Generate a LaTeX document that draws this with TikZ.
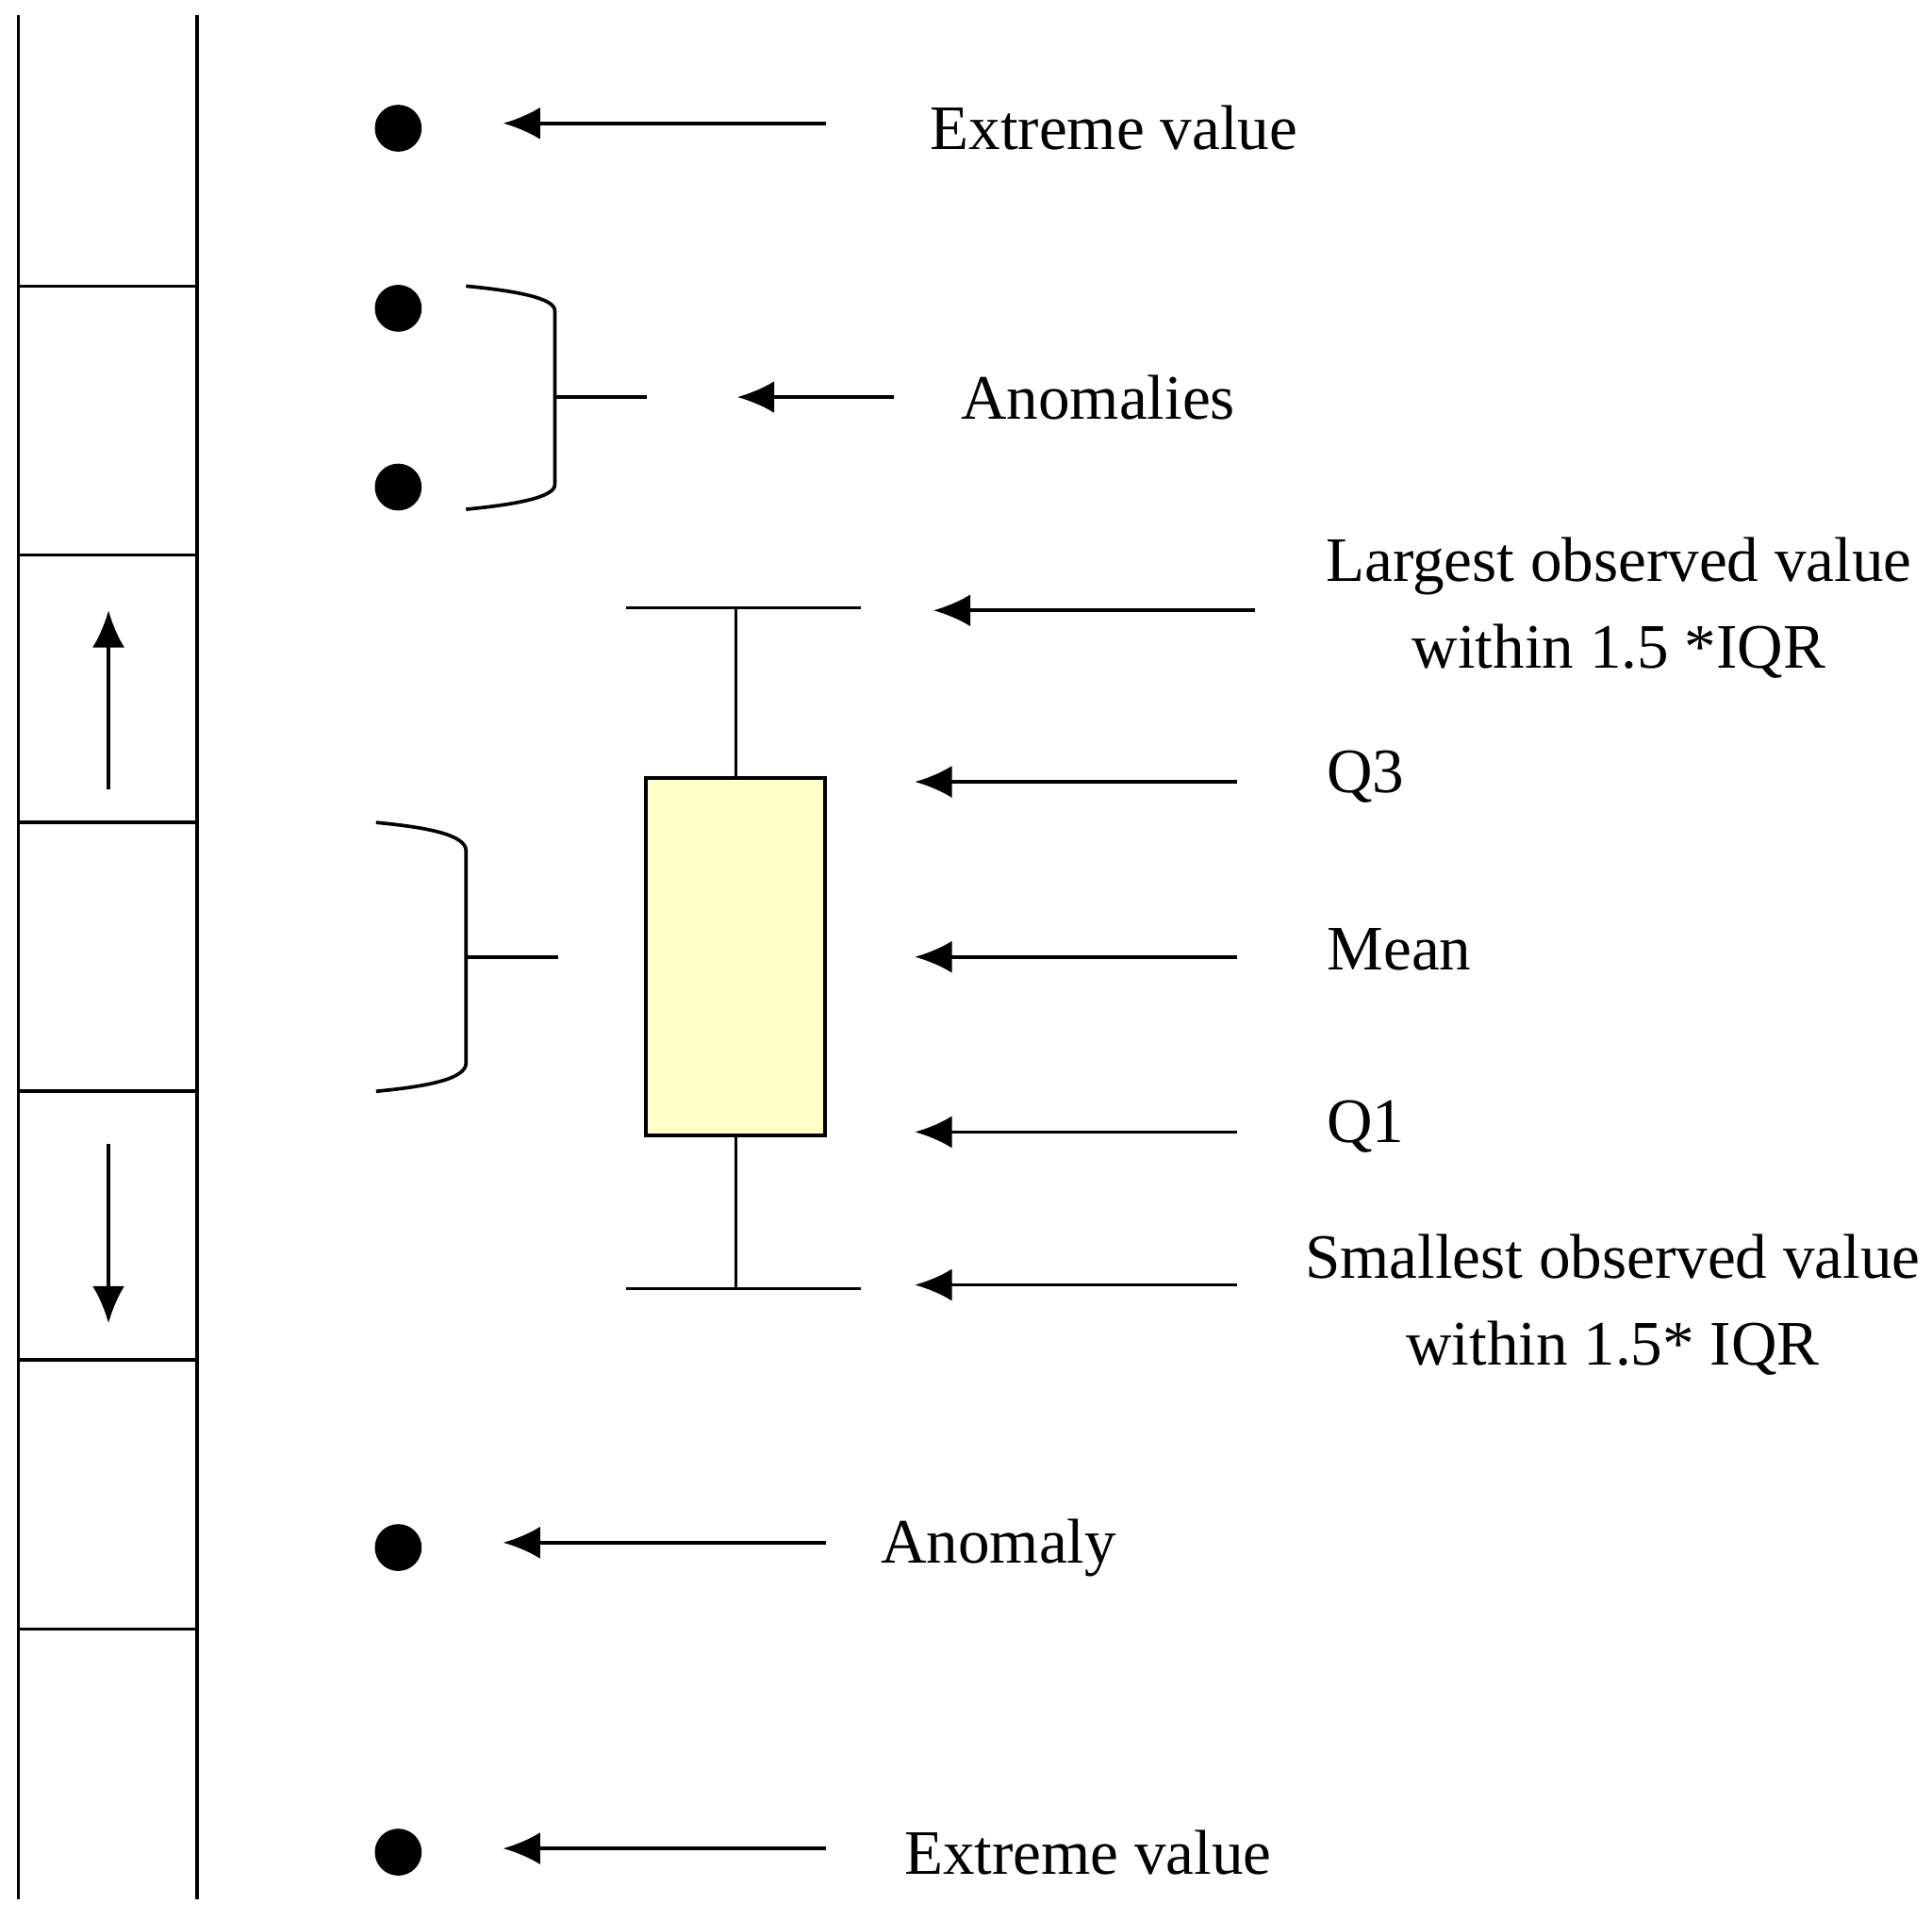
\documentclass[tikz,border=0pt]{standalone}
\usepackage{fontspec}
\setmainfont{Liberation Serif}
\usetikzlibrary{arrows.meta}

\tikzset{
    pt/.style={circle, fill=black, inner sep=0pt, minimum size=0.38cm},
    lbl/.style={font=\fontsize{14.6}{20}\selectfont, inner sep=0pt},
    ptr/.style={-{Latex[length=3mm,width=2.6mm]}, line width=0.8pt},
}

\begin{document}
\begin{tikzpicture}[x=0.01cm, y=-0.01cm, line width=0.8pt]
    \useasboundingbox (0,0) rectangle (1567,1557);
    % scale column
    \draw (15,12) -- (15,1540);
    \draw (160,12) -- (160,1540);
    \foreach \y in {232,450,667,885,1103,1321}
        \draw (15,\y) -- (160,\y);
    \coordinate (ua) at (88,640);
    \coordinate (ub) at (88,495);
    \coordinate (da) at (88,928);
    \coordinate (db) at (88,1073);
    \draw[ptr] (ua) -- (ub);
    \draw[ptr] (da) -- (db);

    % points
    \node (ext1) [pt] at (323,104) {};
    \node (an1) [pt] at (323,250) {};
    \node (an2) [pt] at (323,395) {};
    \node (an3) [pt] at (323,1255) {};
    \node (ext2) [pt] at (323,1502) {};

    % brackets
    \draw (378,232) .. controls (420,236) and (450,242) .. (450,252) -- (450,393)
        .. controls (450,403) and (420,409) .. (378,413);
    \draw (450,322) -- (525,322);
    \draw (305,667) .. controls (347,671) and (378,677) .. (378,690) -- (378,862)
        .. controls (378,875) and (347,881) .. (305,885);
    \draw (378,776) -- (453,776);

    % box plot
    \draw (508,493) -- (698,493);
    \draw (597,493) -- (597,631);
    \draw[fill={rgb,255:red,255;green,255;blue,200}] (524,631) rectangle (669,921);
    \draw (597,921) -- (597,1045);
    \draw (508,1045) -- (698,1045);

    % labels
    \node (lext1) [lbl, anchor=west] at (753,104) {Extreme value};
    \node (lanom) [lbl, anchor=west] at (778,322) {Anomalies};
    \node (llarge) [lbl, align=center] at (1313,493) {Largest observed value\\within 1.5 *IQR};
    \node (lq3) [lbl, anchor=west] at (1075,630) {Q3};
    \node (lmean) [lbl, anchor=west] at (1075,770) {Mean};
    \node (lq1) [lbl, anchor=west] at (1075,914) {Q1};
    \node (lsmall) [lbl, align=center] at (1308,1058) {Smallest observed value\\within 1.5* IQR};
    \node (lan3) [lbl, anchor=west] at (713,1255) {Anomaly};
    \node (lext2) [lbl, anchor=west] at (732,1502) {Extreme value};

    % pointers
    \draw[ptr] (670,100) -- (408,100);
    \draw[ptr] (725,322) -- (598,322);
    \draw[ptr] (1018,495) -- (757,495);
    \draw[ptr] (1003,634) -- (742,634);
    \draw[ptr] (1003,776) -- (742,776);
    \draw[ptr] (1003,918) -- (742,918);
    \draw[ptr] (1003,1042) -- (742,1042);
    \draw[ptr] (670,1251) -- (408,1251);
    \draw[ptr] (670,1499) -- (408,1499);
\end{tikzpicture}
\end{document}
